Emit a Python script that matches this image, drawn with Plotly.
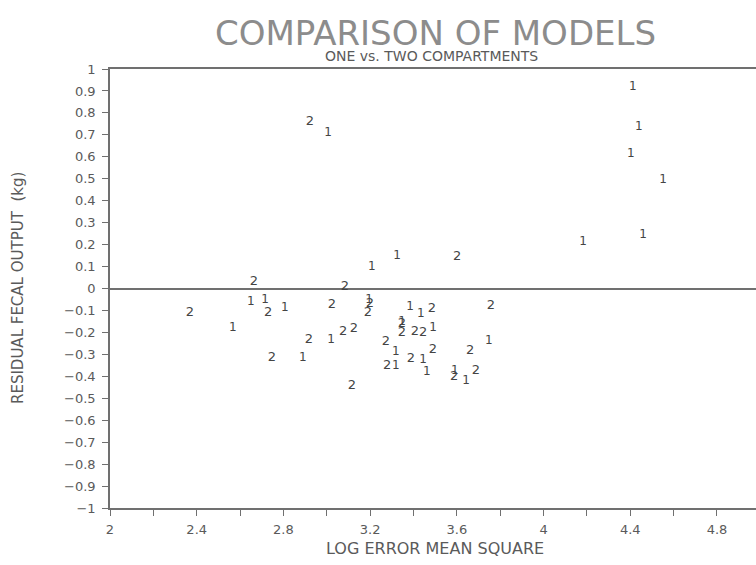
import plotly.graph_objects as go

# Model 1 (one compartment) points
x1 = [4.412, 4.440, 4.403, 4.551, 4.182, 4.459, 3.006, 3.208, 3.324,
      2.650, 2.715, 2.807, 2.567, 3.020, 2.890, 3.195, 3.384, 3.434,
      3.347, 3.490, 3.319, 3.319, 3.444, 3.462, 3.748, 3.591, 3.642]
y1 = [0.918, 0.736, 0.613, 0.494, 0.212, 0.244, 0.708, 0.098, 0.148,
      -0.062, -0.052, -0.089, -0.180, -0.235, -0.317, -0.052, -0.084, -0.116,
      -0.153, -0.180, -0.289, -0.353, -0.326, -0.380, -0.239, -0.376, -0.421]

# Model 2 (two compartments) points
x2 = [2.922, 3.601, 2.664, 3.084, 2.369, 2.729, 3.024, 3.199, 3.190,
      3.485, 3.757, 2.918, 3.075, 3.125, 3.347, 3.347, 3.407, 3.444,
      3.273, 3.490, 3.661, 3.278, 3.388, 3.587, 3.688, 2.747, 3.116]
y2 = [0.759, 0.144, 0.030, 0.007, -0.112, -0.112, -0.075, -0.071, -0.112,
      -0.093, -0.080, -0.235, -0.198, -0.185, -0.162, -0.203, -0.198, -0.203,
      -0.244, -0.280, -0.285, -0.353, -0.321, -0.403, -0.376, -0.317, -0.444]

label1 = "1"
label2 = "2"

FONT = "DejaVu Sans"
TXT = "#5a5a5a"
LINE = "#707070"

fig = go.Figure()
fig.add_trace(go.Scatter(x=x1, y=y1, mode="text", text=[label1] * len(x1),
                         textfont=dict(family=FONT, size=12, color="#444444"),
                         showlegend=False, hoverinfo="x+y"))
fig.add_trace(go.Scatter(x=x2, y=y2, mode="text", text=[label2] * len(x2),
                         textfont=dict(family=FONT, size=13, color="#444444"),
                         showlegend=False, hoverinfo="x+y"))

fig.update_layout(
    width=756, height=565,
    margin=dict(l=110, r=0, t=69, b=57),
    paper_bgcolor="white", plot_bgcolor="white",
    font=dict(family=FONT, color=TXT, size=13),
    xaxis=dict(range=[2, 4.98], tick0=2, dtick=0.4, showgrid=False,
               zeroline=False, showline=True, linecolor=LINE, linewidth=1.5,
               mirror=True, ticks="outside", ticklen=6, tickcolor=LINE,
               ticklabelstandoff=3,
               tickfont=dict(size=13, color=TXT),
               minor=dict(dtick=0.2, tick0=2, ticks="outside", ticklen=6,
                          tickcolor=LINE, showgrid=False)),
    yaxis=dict(range=[-1, 1], tick0=-1, dtick=0.1, showgrid=False,
               zeroline=True, zerolinecolor=LINE, zerolinewidth=1.5,
               showline=True, linecolor=LINE, linewidth=1.5,
               ticks="outside", ticklen=6, tickcolor=LINE,
               ticklabelstandoff=4,
               tickfont=dict(size=13, color=TXT)),
    annotations=[
        dict(text="COMPARISON OF MODELS", x=435, y=33, showarrow=False,
             font=dict(size=34, color="#8c8c8c", family=FONT)),
        dict(text="ONE vs. TWO COMPARTMENTS", x=431, y=56, showarrow=False,
             font=dict(size=14, color=TXT, family=FONT)),
        dict(text="LOG ERROR MEAN SQUARE", x=435, y=548, showarrow=False,
             font=dict(size=16, color=TXT, family=FONT)),
        dict(text="RESIDUAL FECAL OUTPUT  (kg)", x=18, y=288, showarrow=False,
             textangle=-90, font=dict(size=15, color=TXT, family=FONT)),
    ],
)

# convert annotation pixel positions to paper coordinates
W, H = 756, 565
L, R, T, B = 110, 0, 69, 57
pw, ph = W - L - R, H - T - B
new = []
for a in fig.layout.annotations:
    a.xref = "paper"
    a.yref = "paper"
    a.x = (a.x - L) / pw
    a.y = (H - B - a.y) / ph
    a.xanchor = "center"
    a.yanchor = "middle"
    new.append(a)
fig.layout.annotations = new

fig.write_html("out.html")
